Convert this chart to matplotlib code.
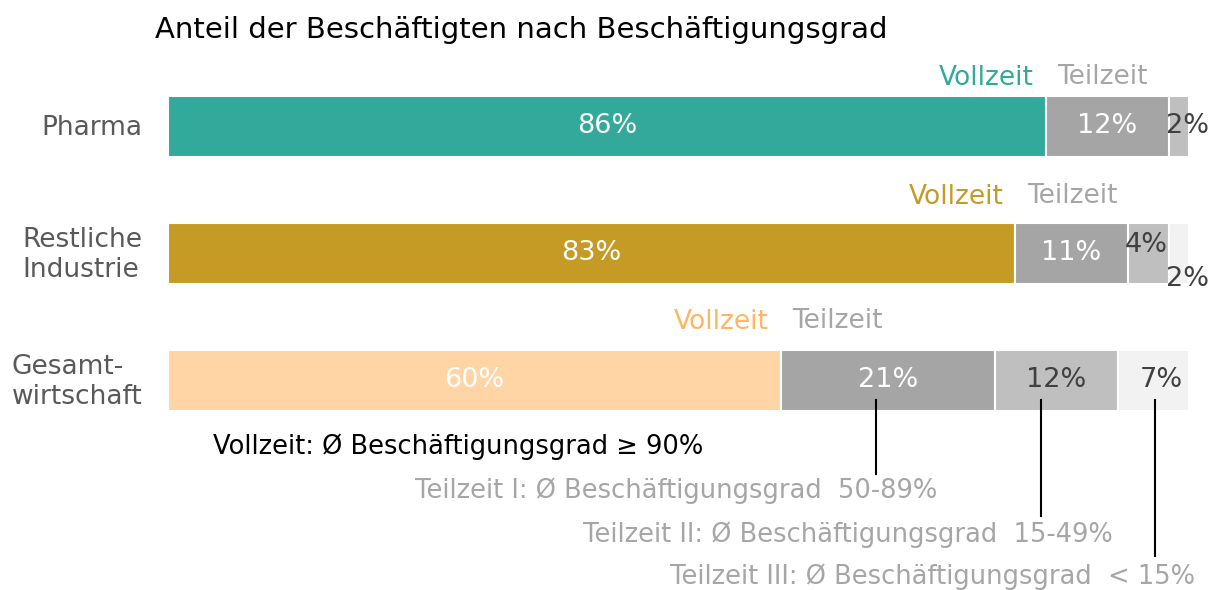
import matplotlib
matplotlib.use("Agg")
import matplotlib.pyplot as plt

# data
categories = ["Pharma", "Restliche\nIndustrie", "Gesamt-\nwirtschaft"]
vollzeit = [86, 83, 60]
teilzeit_1 = [12, 11, 21]
teilzeit_2 = [2, 4, 12]
teilzeit_3 = [0, 2, 7]
segments = [vollzeit, teilzeit_1, teilzeit_2, teilzeit_3]

title = "Anteil der Beschäftigten nach Beschäftigungsgrad"
notes = ["Vollzeit: Ø Beschäftigungsgrad ≥ 90%",
         "Teilzeit I: Ø Beschäftigungsgrad  50-89%",
         "Teilzeit II: Ø Beschäftigungsgrad  15-49%",
         "Teilzeit III: Ø Beschäftigungsgrad  < 15%"]

# styles
voll_colors = ["#33A99B", "#C59B26", "#FFD5A6"]
voll_text_colors = ["#33A99B", "#C59B26", "#FFB562"]
part_colors = ["#A5A5A5", "#BFBFBF", "#F2F2F2"]
grey_text = "#A6A6A6"
dark_text = "#404040"
fs = 19
header_dy = [-0.38, -0.445, -0.46]

plt.rcParams['font.family'] = ['DejaVu Sans']
fig = plt.figure(figsize=(12.13, 5.9), dpi=100)
ax = fig.add_axes([168 / 1213, 0, 1021 / 1213, 1])
ax.set_xlim(0, 100)
ax.set_ylim(3.650, -0.996)
ax.axis("off")

y = list(range(len(categories)))
h = 0.48

for i, cat in enumerate(categories):
    left = 0
    for s, seg in enumerate(segments):
        v = seg[i]
        if v == 0:
            continue
        col = voll_colors[i] if s == 0 else part_colors[s - 1]
        ax.barh(y[i], v, left=left, height=h, color=col, edgecolor="white", linewidth=1.5)
        # value labels
        if s == 0 or s == 1:
            tc = "white"
        else:
            tc = dark_text
        if v >= 5:
            xx = left + v / 2 + (0.8 if s == 3 else 0)
            ax.text(xx, y[i], f"{v}%", ha="center", va="center", color=tc, fontsize=fs + 0.5)
        else:
            dy = 0.2 if (s == 3) else (-0.07 if i == 1 else 0)
            ax.text(left - 0.3, y[i] + dy, f"{v}%", ha="left", va="center",
                    color=dark_text, fontsize=fs + 0.5, clip_on=False)
        left += v
    # header labels
    ax.text(vollzeit[i] - 1.2, y[i] + header_dy[i], "Vollzeit", ha="right", va="center",
            color=voll_text_colors[i], fontsize=fs)
    ax.text(vollzeit[i] + 1.1, y[i] + header_dy[i] - 0.01, "Teilzeit", ha="left", va="center",
            color=grey_text, fontsize=fs)
    ax.text(-2.5, y[i] + 0.01, cat, ha="right", va="center", color="#595959",
            fontsize=fs, multialignment="left", clip_on=False)

fig.text(155 / 1213, 1 - 30 / 590, title, ha="left", va="center", fontsize=21, color="black")

# notes and leader lines
ax.text(4.4, 2.52, notes[0], ha="left", va="center", fontsize=18.5, color="black")
note_x = [75.3, 92.5, 100.6]
note_y = [2.87, 3.217, 3.547]
line_end = [2.736, 3.067, 3.382]
line_shift = [-1.2, -1.5, 0.2]
g = len(categories) - 1
starts = [vollzeit[g], vollzeit[g] + teilzeit_1[g], vollzeit[g] + teilzeit_1[g] + teilzeit_2[g]]
widths = [teilzeit_1[g], teilzeit_2[g], teilzeit_3[g]]
for k in range(3):
    cx = starts[k] + widths[k] / 2 + line_shift[k]
    ax.plot([cx, cx], [g + 0.15, line_end[k]],
            color="black", linewidth=1.5, clip_on=False)
    ax.text(note_x[k], note_y[k], notes[k + 1], ha="right", va="center",
            fontsize=18.5, color=grey_text, clip_on=False)

fig.savefig("out.png", dpi=100)
